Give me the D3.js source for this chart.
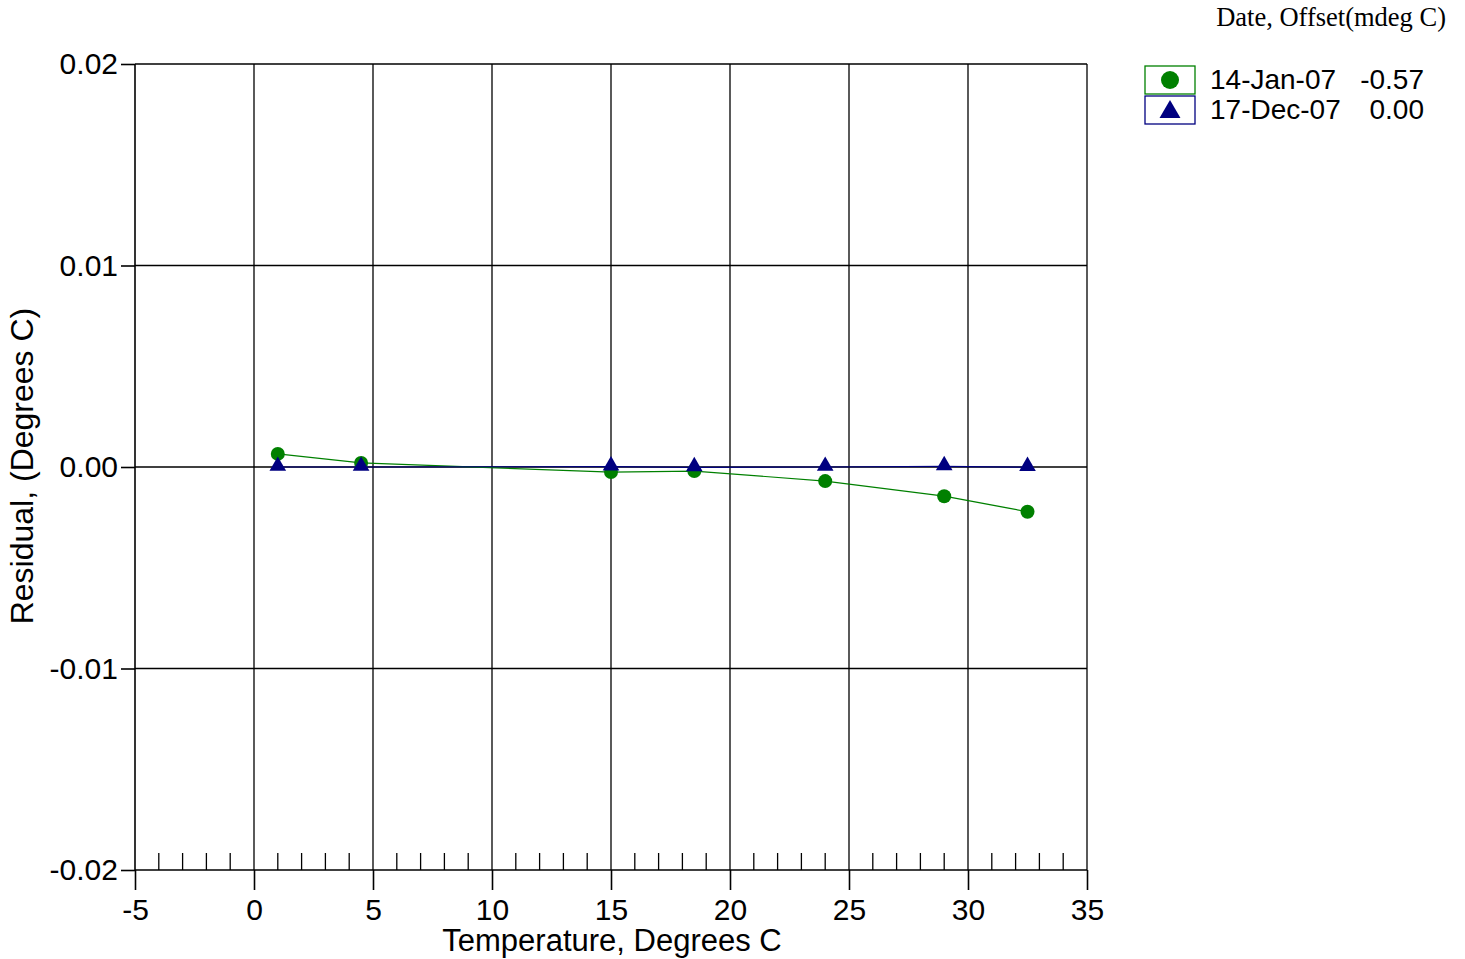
<!DOCTYPE html>
<html>
<head>
<meta charset="utf-8">
<script src="https://cdn.jsdelivr.net/npm/d3@7"></script>
<style>
  html, body { margin: 0; padding: 0; background: #fff; }
  svg text { font-family: "Liberation Sans", Arial, Helvetica, sans-serif; }
</style>
</head>
<body>
<svg id="chart" width="1465" height="959"></svg>
<script>
// Calibration residuals by temperature
const temperatures = [1, 4.5, 15, 18.5, 24, 29, 32.5];
const residualJan07 = [0.00065, 0.0002, -0.00025, -0.0002, -0.0007, -0.00145, -0.00222];
const residualDec07 = [0.0, 0.0, 0.00002, -0.00002, 0.0, 0.00003, -0.00001];
const seriesNames = ["14-Jan-07", "17-Dec-07"];
const seriesOffsets = ["-0.57", "0.00"];
const xTicks = [-5, 0, 5, 10, 15, 20, 25, 30, 35];
const yTicks = [-0.02, -0.01, 0.0, 0.01, 0.02];

const svg = d3.select("#chart");
const plotLeft = 135, plotRight = 1087, plotTop = 64, plotBottom = 870;

const x = d3.scaleLinear().domain([-5, 35]).range([plotLeft, plotRight]);
const y = d3.scaleLinear().domain([-0.02, 0.02]).range([plotBottom, plotTop]);

// plain hyphen for negative numbers
const fmtX = d => d3.format("d")(d).replace("\u2212", "-");
const fmtY = d => d3.format(".2f")(d).replace("\u2212", "-");

const g = svg.append("g");

// grid lines
g.selectAll("line.vgrid").data(xTicks.slice(1)).enter().append("line")
  .attr("x1", d => x(d)).attr("x2", d => x(d))
  .attr("y1", plotTop).attr("y2", plotBottom)
  .attr("stroke", "#000").attr("stroke-width", 1.3);
g.selectAll("line.hgrid").data(yTicks.slice(1)).enter().append("line")
  .attr("x1", plotLeft).attr("x2", plotRight)
  .attr("y1", d => y(d)).attr("y2", d => y(d))
  .attr("stroke", "#000").attr("stroke-width", 1.3);

// x axis: major ticks below, minor ticks above
const xAxis = d3.axisBottom(x).tickValues(xTicks).tickSize(20).tickFormat(fmtX);
const xa = g.append("g").attr("transform", `translate(0,${plotBottom})`).call(xAxis);
xa.select(".domain").remove();
xa.selectAll(".tick line").attr("stroke", "#000").attr("stroke-width", 1.6);
xa.selectAll(".tick text").attr("font-size", 30).attr("fill", "#000").attr("y", 29).attr("dy", "0.71em");

const minor = d3.range(-5, 35, 1).filter(v => v % 5 !== 0);
g.selectAll("line.minor").data(minor).enter().append("line")
  .attr("x1", d => x(d)).attr("x2", d => x(d))
  .attr("y1", plotBottom - 17).attr("y2", plotBottom)
  .attr("stroke", "#000").attr("stroke-width", 1.3);
g.append("line").attr("x1", plotLeft).attr("x2", plotRight).attr("y1", plotBottom).attr("y2", plotBottom)
  .attr("stroke", "#000").attr("stroke-width", 1.6);

// y axis
const yAxis = d3.axisLeft(y).tickValues(yTicks).tickSize(14).tickFormat(fmtY);
const ya = g.append("g").attr("transform", `translate(${plotLeft},0)`).call(yAxis);
ya.select(".domain").remove();
ya.selectAll(".tick line").attr("stroke", "#000").attr("stroke-width", 1.6);
ya.selectAll(".tick text").attr("font-size", 30).attr("fill", "#000").attr("x", -17);
g.append("line").attr("x1", plotLeft).attr("x2", plotLeft).attr("y1", plotTop).attr("y2", plotBottom)
  .attr("stroke", "#000").attr("stroke-width", 1.6);

// axis titles
svg.append("text").attr("x", 612).attr("y", 951).attr("text-anchor", "middle")
  .attr("font-size", 31).text("Temperature, Degrees C");
svg.append("text").attr("transform", "translate(33,466) rotate(-90)").attr("text-anchor", "middle")
  .attr("font-size", 32).text("Residual, (Degrees C)");

// series
const line = d3.line().x(d => x(d[0])).y(d => y(d[1]));
const jan = temperatures.map((t, i) => [t, residualJan07[i]]);
const dec = temperatures.map((t, i) => [t, residualDec07[i]]);

g.append("path").datum(jan).attr("d", line).attr("fill", "none")
  .attr("stroke", "#008000").attr("stroke-width", 1.2);
g.append("path").datum(dec).attr("d", line).attr("fill", "none")
  .attr("stroke", "#000080").attr("stroke-width", 1.2);

g.selectAll("circle.jan").data(jan).enter().append("circle")
  .attr("cx", d => x(d[0])).attr("cy", d => y(d[1])).attr("r", 7)
  .attr("fill", "#008000");

const tri = d3.symbol().type(d3.symbolTriangle).size(120);
g.selectAll("path.dec").data(dec).enter().append("path")
  .attr("d", tri)
  .attr("transform", d => `translate(${x(d[0])},${y(d[1]) - 1})`)
  .attr("fill", "#000080");

// legend
svg.append("text").attr("x", 1446).attr("y", 26).attr("text-anchor", "end")
  .style("font-family", "'Liberation Serif', 'Times New Roman', serif")
  .attr("font-size", 26.5).text("Date, Offset(mdeg C)");

const colors = ["#008000", "#000080"];
seriesNames.forEach((name, i) => {
  const yTop = 66 + i * 30;
  svg.append("rect").attr("x", 1145).attr("y", yTop).attr("width", 50).attr("height", 28)
    .attr("fill", "#fff").attr("stroke", colors[i]).attr("stroke-width", 1.3);
  if (i === 0) {
    svg.append("circle").attr("cx", 1170).attr("cy", yTop + 14).attr("r", 9).attr("fill", colors[i]);
  } else {
    svg.append("path").attr("d", d3.symbol().type(d3.symbolTriangle).size(190))
      .attr("transform", `translate(1170,${yTop + 16})`).attr("fill", colors[i]);
  }
  svg.append("text").attr("x", 1210).attr("y", yTop + 23).attr("font-size", 28).text(name);
  svg.append("text").attr("x", 1424).attr("y", yTop + 23).attr("text-anchor", "end")
    .attr("font-size", 28).text(seriesOffsets[i]);
});
</script>
</body>
</html>
